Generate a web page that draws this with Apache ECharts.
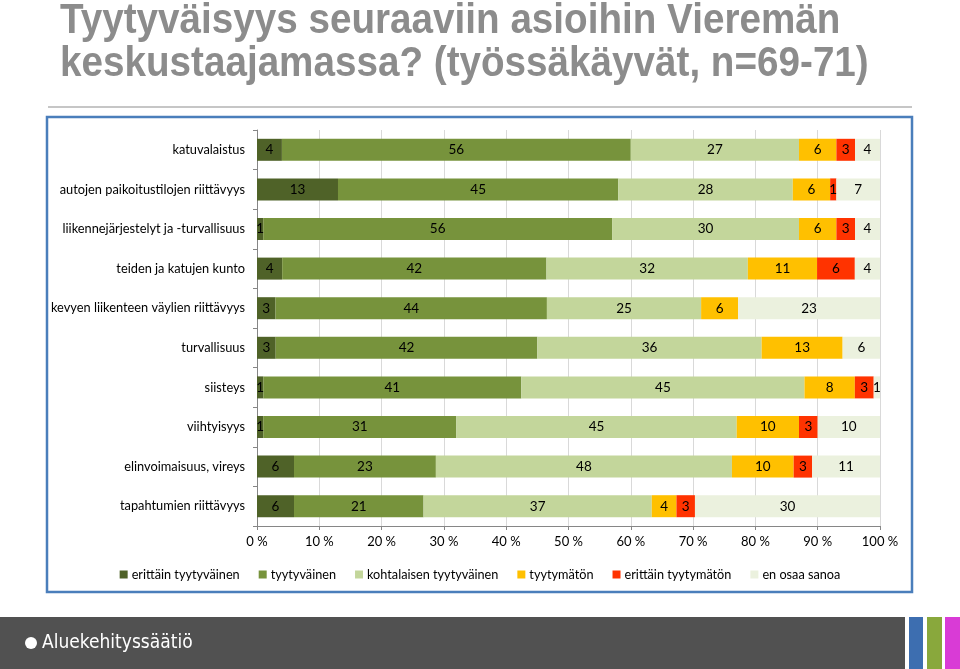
<!DOCTYPE html>
<html><head><meta charset="utf-8">
<script src="https://cdn.jsdelivr.net/npm/echarts@6/dist/echarts.min.js"></script>
<style>html,body{margin:0;padding:0;background:#fff}#c{width:960px;height:669px}</style>
</head><body><div id="c"></div>
<script>
const categories = [
  'katuvalaistus',
  'autojen paikoitustilojen riittävyys',
  'liikennejärjestelyt ja -turvallisuus',
  'teiden ja katujen kunto',
  'kevyen liikenteen väylien riittävyys',
  'turvallisuus',
  'siisteys',
  'viihtyisyys',
  'elinvoimaisuus, vireys',
  'tapahtumien riittävyys'
];
const seriesNames = ['erittäin tyytyväinen','tyytyväinen','kohtalaisen tyytyväinen','tyytymätön','erittäin tyytymätön','en osaa sanoa'];
const erittainTyytyvainen = [4, 13, 1, 4, 3, 3, 1, 1, 6, 6];
const tyytyvainen        = [56, 45, 56, 42, 44, 42, 41, 31, 23, 21];
const kohtalaisen        = [27, 28, 30, 32, 25, 36, 45, 45, 48, 37];
const tyytymaton         = [6, 6, 6, 11, 6, 13, 8, 10, 10, 4];
const erittainTyytymaton = [3, 1, 3, 6, 0, 0, 3, 3, 3, 3];
const enOsaaSanoa        = [4, 7, 4, 4, 23, 6, 1, 10, 11, 30];
const tickLabels = ['0 %','10 %','20 %','30 %','40 %','50 %','60 %','70 %','80 %','90 %','100 %'];

const colors = ['#4f6228','#77933c','#c3d69b','#ffc000','#ff3300','#ebf1de'];
const raw = [erittainTyytyvainen, tyytyvainen, kohtalaisen, tyytymaton, erittainTyytymaton, enOsaaSanoa];
const rowSums = categories.map((_, i) => raw.reduce((s, arr) => s + arr[i], 0));
const FONT = 'Lato';

const series = raw.map((arr, k) => ({
  name: seriesNames[k],
  type: 'bar',
  stack: 'all',
  barWidth: 22,
  itemStyle: { color: colors[k] },
  label: {
    show: true, position: 'inside', color: '#000', fontFamily: FONT, fontSize: 13.5,
    formatter: p => (p.data.raw ? String(p.data.raw) : '')
  },
  emphasis: { disabled: true },
  data: arr.map((v, i) => ({ value: v / rowSums[i] * 100, raw: v }))
}));

const chart = echarts.init(document.getElementById('c'), null, { renderer: 'canvas' });
chart.setOption({
  animation: false,
  color: colors,
  grid: { left: 257, right: 80, top: 130, bottom: 143, containLabel: false },
  xAxis: {
    type: 'value', min: 0, max: 100, interval: 10,
    axisLine: { show: true, lineStyle: { color: '#868686' } },
    axisTick: { show: true, length: 4, inside: false, lineStyle: { color: '#868686' } },
    splitLine: { show: true, lineStyle: { color: '#d9d9d9' } },
    axisLabel: { color: '#000', fontFamily: FONT, fontSize: 13, margin: 9,
      formatter: v => tickLabels[Math.round(v / 10)] }
  },
  yAxis: {
    type: 'category', inverse: true, data: categories,
    axisLine: { show: true, lineStyle: { color: '#868686' } },
    axisTick: { show: true, length: 4, alignWithLabel: false, lineStyle: { color: '#868686' } },
    axisLabel: { color: '#000', fontFamily: FONT, fontSize: 12.8, margin: 12 }
  },
  legend: {
    data: seriesNames, top: 563, left: 'center', icon: 'rect', itemWidth: 8, itemHeight: 8,
    itemGap: 19, textStyle: { color: '#000', fontFamily: FONT, fontSize: 12.7, padding: [0,0,0,-1] }
  },
  graphic: [
    { type: 'text', x: 60, y: 0, scaleX: 0.92, silent: true,
      style: { text: 'Tyytyväisyys seuraaviin asioihin Vieremän', font: 'bold 42px "Liberation Sans", Arial', fill: '#8c8c8c', verticalAlign: 'top' } },
    { type: 'text', x: 60, y: 43, scaleX: 0.92, silent: true,
      style: { text: 'keskustaajamassa? (työssäkäyvät, n=69-71)', font: 'bold 42px "Liberation Sans", Arial', fill: '#8c8c8c', verticalAlign: 'top' } },
    { type: 'line', silent: true, shape: { x1: 48, y1: 107, x2: 912, y2: 107 }, style: { stroke: '#b3b3b3', lineWidth: 1.5 } },
    { type: 'rect', silent: true, z: -1, shape: { x: 47, y: 117, width: 865, height: 475 }, style: { fill: 'none', stroke: '#4a7ebb', lineWidth: 2.5 } },
    { type: 'rect', silent: true, shape: { x: 0, y: 617, width: 905, height: 52 }, style: { fill: '#515151' } },
    { type: 'rect', silent: true, shape: { x: 909, y: 617, width: 14, height: 52 }, style: { fill: '#3d6eb0' } },
    { type: 'rect', silent: true, shape: { x: 927, y: 617, width: 15, height: 52 }, style: { fill: '#89a83c' } },
    { type: 'rect', silent: true, shape: { x: 945, y: 617, width: 15, height: 52 }, style: { fill: '#d93bd6' } },
    { type: 'circle', silent: true, shape: { cx: 31, cy: 643, r: 6 }, style: { fill: '#fff' } },
    { type: 'text', x: 42, y: 643, silent: true,
      style: { text: 'Aluekehityssäätiö', font: '19px "DejaVu Sans Condensed", "DejaVu Sans"', fill: '#fff', verticalAlign: 'middle' } }
  ],
  series
});
</script>
</body></html>
